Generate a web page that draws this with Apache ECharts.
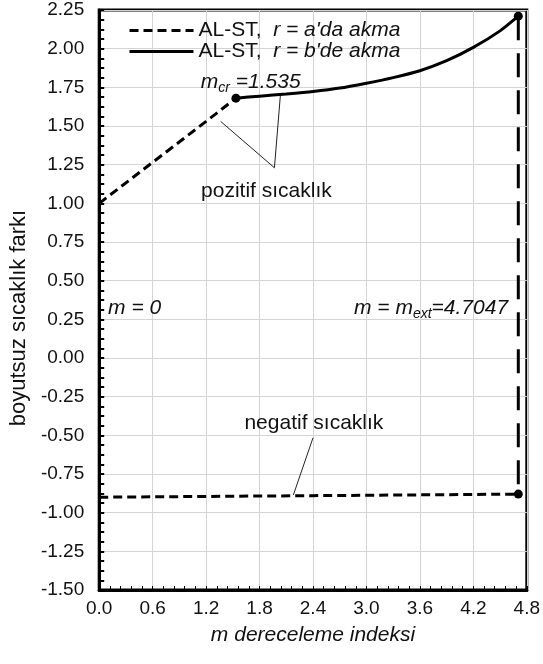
<!DOCTYPE html>
<html><head><meta charset="utf-8">
<script src="https://cdn.jsdelivr.net/npm/echarts@6/dist/echarts.min.js"></script>
<style>html,body{margin:0;padding:0;background:#fff}#c{width:543px;height:664px}</style>
</head><body><div id="c"></div>
<script>
// ---- data ----
var nameA = "AL-ST,  r = a'da akma";
var nameB = "AL-ST,  r = b'de akma";
var posA = [[0, 1.0], [0.6, 1.265], [1.2, 1.53], [1.535, 1.68]];
var negA = [[0, -0.90], [1.2, -0.895], [2.4, -0.89], [3.6, -0.885], [4.7047, -0.88]];
var solidB = [[1.535, 1.68], [1.8, 1.693], [2.1, 1.707], [2.4, 1.723], [2.7, 1.745], [3.0, 1.777], [3.3, 1.813], [3.6, 1.857], [3.9, 1.922], [4.2, 2.008], [4.5, 2.115], [4.7047, 2.21]];
var extLine = [[4.7047, 2.21], [4.7047, -0.88]];
var dots = [[1.535, 1.68], [4.7047, 2.21], [4.7047, -0.88]];
var leaderPos = [[1.363, 1.53], [1.967, 1.23], [2.034, 1.70]];
var leaderNeg = [[2.40, -0.516], [2.18, -0.885]];
var xMin = 0, xMax = 4.8, xStep = 0.6;
var yMin = -1.5, yMax = 2.25, yStep = 0.25;
var xTitle = 'm dereceleme indeksi';
var yTitle = 'boyutsuz sıcaklık farkı';

var chart = echarts.init(document.getElementById('c'));
var FONT = 'Liberation Sans, Arial, sans-serif';
var ink = '#000';
var txt = '#111';
chart.setOption({
  animation: false,
  backgroundColor: '#fff',
  textStyle: { fontFamily: FONT },
  grid: { left: 97, right: 16, top: 10, bottom: 74, show: true, borderColor: ink, borderWidth: 3, backgroundColor: 'transparent' },
  legend: {
    data: [nameA, nameB], orient: 'vertical', left: 123, top: 15,
    itemWidth: 64, itemHeight: 14, itemGap: 0,
    itemStyle: { opacity: 0, borderWidth: 0 },
    lineStyle: { width: 3 },
    textStyle: {
      fontFamily: FONT, fontSize: 21, color: txt,
      rich: { n: { fontSize: 21, color: txt, fontFamily: FONT, lineHeight: 23 }, i: { fontSize: 21, fontStyle: 'italic', color: txt, fontFamily: FONT, lineHeight: 23 } }
    },
    formatter: function (n) { var p = n.split(',  '); return '{n|' + p[0] + ',}  {i|' + p[1] + '}'; }
  },
  xAxis: {
    type: 'value', min: xMin, max: xMax, interval: xStep,
    name: xTitle, nameLocation: 'middle', nameGap: 35,
    nameTextStyle: { fontSize: 21, fontStyle: 'italic', color: txt, fontFamily: FONT },
    axisLine: { show: true, onZero: false, lineStyle: { color: ink, width: 3 } },
    axisTick: { show: true, inside: true, length: 4, lineStyle: { color: ink, width: 1 } },
    minorTick: { show: true, splitNumber: 5, length: 4, lineStyle: { color: ink, width: 1 } },
    axisLabel: { fontSize: 19, color: txt, margin: 9, formatter: function (v) { return v.toFixed(1); } },
    splitLine: { show: true, lineStyle: { color: '#d4d4d4', width: 1 } }
  },
  yAxis: {
    type: 'value', min: yMin, max: yMax, interval: yStep,
    name: yTitle, nameLocation: 'middle', nameGap: 67,
    nameTextStyle: { fontSize: 22, color: txt, fontFamily: FONT, padding: [0, 36, 0, 0] },
    axisLine: { show: true, onZero: false, lineStyle: { color: ink, width: 3 } },
    axisTick: { show: true, inside: true, length: 5, lineStyle: { color: ink, width: 2 } },
    minorTick: { show: true, splitNumber: 4, length: 5, lineStyle: { color: ink, width: 2 } },
    axisLabel: { fontSize: 19, color: txt, margin: 15, formatter: function (v) { return v.toFixed(2); } },
    splitLine: { show: true, lineStyle: { color: '#d4d4d4', width: 1 } }
  },
  series: [
    { name: nameA, type: 'line', data: posA, symbol: 'none', lineStyle: { color: ink, width: 3, type: [9, 5] }, itemStyle: { color: ink }, z: 5 },
    { name: nameA, type: 'line', data: negA, symbol: 'none', lineStyle: { color: ink, width: 3, type: [9, 5] }, itemStyle: { color: ink }, z: 5 },
    { name: nameB, type: 'line', data: solidB, symbol: 'none', smooth: 0.2, lineStyle: { color: ink, width: 3 }, itemStyle: { color: ink }, z: 5 },
    { name: 'ext', type: 'line', data: extLine, symbol: 'none', lineStyle: { color: ink, width: 3, type: [24, 13] }, z: 5 },
    { name: 'dots', type: 'scatter', data: dots, symbolSize: 9, itemStyle: { color: ink, opacity: 1 }, z: 6 },
    { name: 'lp', type: 'line', data: leaderPos, symbol: 'none', lineStyle: { color: '#222', width: 1 }, z: 4 },
    { name: 'ln', type: 'line', data: leaderNeg, symbol: 'none', lineStyle: { color: '#222', width: 1 }, z: 4 }
  ]
});

function px(p) { return chart.convertToPixel({ gridIndex: 0 }, p); }
var notes = [
  { at: [1.14, 1.782], align: 'left', text: '{i|m}{s|cr}{i| =1.535}' },
  { at: [1.877, 1.081], align: 'center', text: '{n|pozitif sıcaklık}' },
  { at: [2.41, -0.42], align: 'center', text: '{n|negatif sıcaklık}' },
  { at: [0.1, 0.32], align: 'left', text: '{i|m = 0}' },
  { at: [4.59, 0.32], align: 'right', text: '{i|m = m}{s|ext}{i|=4.7047}' }
];
var rich = {
  i: { fontSize: 21, fontStyle: 'italic', fill: txt, fontFamily: FONT, lineHeight: 26, verticalAlign: 'middle' },
  n: { fontSize: 21, fill: txt, fontFamily: FONT, lineHeight: 26 },
  s: { fontSize: 14, fontStyle: 'italic', fill: txt, fontFamily: FONT, lineHeight: 26, verticalAlign: 'bottom', padding: [12, 0, 0, 0] }
};
chart.setOption({
  graphic: notes.map(function (nt) {
    var p = px(nt.at);
    return { type: 'text', x: p[0], y: p[1], z: 10, style: { text: nt.text, rich: rich, align: nt.align, verticalAlign: 'middle', fontFamily: FONT } };
  })
});
</script></body></html>
